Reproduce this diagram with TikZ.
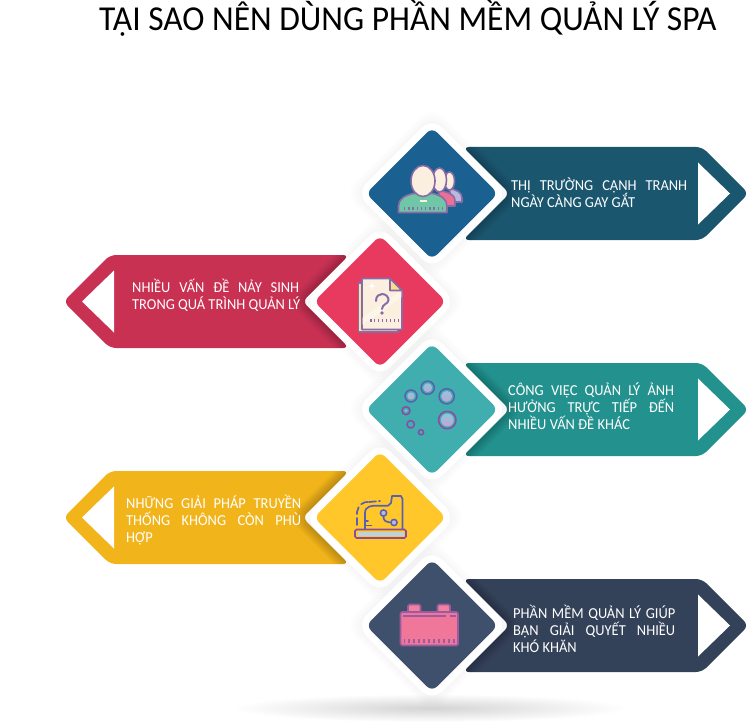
\documentclass[tikz,border=0pt]{standalone}
\usepackage{fontspec}
\setmainfont{Carlito}[FakeStretch=0.95]
\newfontfamily\titlefont{Carlito}[FakeStretch=0.957]
\definecolor{aA}{HTML}{1B566F}\definecolor{dA}{HTML}{1A6090}
\definecolor{aB}{HTML}{C93153}\definecolor{dB}{HTML}{E73A5E}
\definecolor{aC}{HTML}{23928E}\definecolor{dC}{HTML}{40AEAE}
\definecolor{aD}{HTML}{F2B41B}\definecolor{dD}{HTML}{FFC729}
\definecolor{aE}{HTML}{344259}\definecolor{dE}{HTML}{3F506C}
\definecolor{ipurple}{HTML}{8B6BA6}\definecolor{icream}{HTML}{FBF0E0}
\definecolor{igreen}{HTML}{6FC7A8}\definecolor{ipink}{HTML}{EE6F95}
\definecolor{ilav}{HTML}{B7B9DD}\definecolor{iyel}{HTML}{F9DE8E}
\definecolor{iblue}{HTML}{5A5FB0}\definecolor{imag}{HTML}{8A4AA5}
\definecolor{bubtop}{HTML}{8FC5DC}\definecolor{bubbot}{HTML}{C6A4D4}
\definecolor{batt}{HTML}{F0769A}\definecolor{battl}{HTML}{F2819E}\definecolor{battd}{HTML}{9A5C9E}
\newcommand{\slab}[4]{%
 \begin{scope}[shift={(406,#1)},xscale=#2]
  \fill[#3,rounded corners=6] (57,-46.5) -- (296,-46.5) -- (342.5,0) -- (296,46.5) -- (57,46.5) -- (103.5,0) -- cycle;
  \fill[white] (292,-31) -- (324,0) -- (292,31) -- cycle;
  \begin{scope}
   \clip[rounded corners=6] (57,-46.5) -- (296,-46.5) -- (342.5,0) -- (296,46.5) -- (57,46.5) -- (103.5,0) -- cycle;
   \foreach \r in {92,89,86,83,80}{\fill[black,opacity=.035,rounded corners=15] (26-\r,0) -- (26,-\r) -- (26+\r,0) -- (26,\r) -- cycle;}
  \end{scope}
  \foreach \r in {88,85,82,79}{\fill[black,opacity=.006,rounded corners=15] (26-\r,0) -- (26,-\r) -- (26+\r,0) -- (26,\r) -- cycle;}
  \fill[white,rounded corners=15] (-50,0) -- (26,-76) -- (102,0) -- (26,76) -- cycle;
  \fill[#4,rounded corners=7] (-40,0) -- (26,-66) -- (92,0) -- (26,66) -- cycle;
 \end{scope}}
\newcommand{\jline}[2]{\makebox[#1][s]{#2}\\}
\tikzset{
 lbl/.style={anchor=base west,inner sep=0pt,text=white,font=\fontsize{15.2}{17}\selectfont},
 ink/.style={draw=ipurple,line width=1.6pt,line join=round},
 bubble/.style={line width=1.5pt},
 cashline/.style={draw=iblue,line width=1.7pt,line cap=round,line join=round},
}
\begin{document}
\begin{tikzpicture}[x=1pt,y=-1pt]
\useasboundingbox (0,0) rectangle (746,722);
\shade[inner color=black!17,outer color=white] (430,708) ellipse [x radius=197,y radius=14];
\node[anchor=base west,inner sep=0pt,font=\titlefont\fontsize{35}{40}\selectfont,text=black] (title) at (99,31) {TẠI SAO NÊN DÙNG PHẦN MỀM QUẢN LÝ SPA};
\slab{193.5}{1}{aA}{dA}
\slab{301.5}{-1}{aB}{dB}
\slab{409.5}{1}{aC}{dC}
\slab{517.5}{-1}{aD}{dD}
\slab{625.5}{1}{aE}{dE}
% texts
\node[lbl] (t1) at (511,190) {\parbox[t]{176pt}{\baselineskip=17pt\jline{176pt}{THỊ TRƯỜNG CẠNH TRANH}\mbox{NGÀY CÀNG GAY GẮT}}};
\node[lbl] (t2) at (132,292) {\parbox[t]{167pt}{\baselineskip=17pt\jline{167pt}{NHIỀU VẤN ĐỀ NẢY SINH}\mbox{TRONG QUÁ TRÌNH QUẢN LÝ}}};
\node[lbl] (t3) at (508,395) {\parbox[t]{166pt}{\baselineskip=17pt\jline{166pt}{CÔNG VIỆC QUẢN LÝ ẢNH}\jline{166pt}{HƯỞNG TRỰC TIẾP ĐẾN}\mbox{NHIỀU VẤN ĐỀ KHÁC}}};
\node[lbl] (t4) at (126,508) {\parbox[t]{175pt}{\baselineskip=17pt\jline{175pt}{NHỮNG GIẢI PHÁP TRUYỀN}\jline{175pt}{THỐNG KHÔNG CÒN PHÙ}\mbox{HỢP}}};
\node[lbl] (t5) at (513,618) {\parbox[t]{162pt}{\baselineskip=17pt\jline{162pt}{PHẦN MỀM QUẢN LÝ GIÚP}\jline{162pt}{BẠN GIẢI QUYẾT NHIỀU}\mbox{KHÓ KHĂN}}};
% icon 1: people
\path[ink,fill=ilav] (449,188) .. controls (456,190) and (462,192) .. (462,198) -- (462,202) -- (452,202) -- cycle;
\path[ink,fill=icream] (449.5,181) ellipse [x radius=5,y radius=9];
\path[ink,fill=ipink] (438,190) .. controls (447,192) and (455,194) .. (455,201) -- (455,206) -- (442,206) -- cycle;
\path[ink,fill=icream] (439.5,180) ellipse [x radius=7,y radius=12];
\path[ink,fill=igreen] (398.5,212.5) -- (398.5,206) .. controls (398.5,199) and (405,195.5) .. (413,193.5) -- (433,193.5) .. controls (441,195.5) and (447,199) .. (447,206) -- (447,212.5) -- cycle;
\path[ink,fill=icream] (423,181) ellipse [x radius=12,y radius=15.5];
\fill[icream] (419.5,199.5) rectangle (426.5,201.5);
\foreach \x in {0,...,9}{\fill[ipurple] (404+\x*4.2,206.5) rectangle +(1.3,3);}
% icon 2: pages
\path[ink,fill=iyel!70!icream] (358.5,283) -- (358.5,332) -- (398,332) -- (398,326) -- (365,326) -- (365,283) -- cycle;
\path[ink,fill=icream] (362,278.5) -- (390,278.5) -- (402,290.5) -- (402,329.5) -- (362,329.5) -- cycle;
\fill[white,opacity=.35] (362,318) -- (402,290) -- (402,297) -- (362,325) -- cycle;
\path[ink,fill=iyel] (390,278.5) -- (390,290.5) -- (402,290.5) -- cycle;
\draw[draw=ipurple,line width=2pt,line cap=round] (376,301) .. controls (376,296) and (379,294) .. (382,294) .. controls (386,294) and (388.5,297) .. (388.5,300) .. controls (388.5,304) and (382,304) .. (382,309);
\fill[ipurple] (382,313) circle [radius=1.8];
\foreach \x in {0,...,7}{\fill[ipurple] (370+\x*3.95,318.5) rectangle +(1.5,3.2);}
\fill[white] (372,282) -- (372.8,285.2) -- (376,286) -- (372.8,286.8) -- (372,290) -- (371.2,286.8) -- (368,286) -- (371.2,285.2) -- cycle;
% icon 3: bubbles
\foreach \x/\y/\r/\c in {427.7/387.7/6.6/iblue,446.7/396.3/7.6/iblue,411/396/6/iblue,406/410.7/4/imag,447.3/420/8.7/imag,410.7/424.3/3.7/imag,421/432.3/2.6/imag}{
  \draw[\c,bubble] (\x,\y) circle [radius=\r];}
\foreach \x/\y/\r in {427.7/387.7/4.4,446.7/396.3/5.4,411/396/3.7,406/410.7/1.5,447.3/420/6.4}{
  \shade[top color=bubtop,bottom color=bubbot] (\x,\y) circle [radius=\r];}
% icon 4: cash register
\draw[imag,line width=1.7pt,rounded corners=1.5,fill=dD] (355,529.5) rectangle (406,538);
\fill[ilav!30!cyan!30!gray!45!white] (357.5,532) rectangle (403.5,535.6);
\draw[cashline] (365,529) -- (365,513) .. controls (365,506) and (372,505.7) .. (376,505.7) -- (388,505.7) -- (391,503) -- (392,496) -- (401,496) -- (402.5,499) -- (402.5,529);
\draw[cashline,dash pattern=on 7pt off 4pt] (357,525) -- (357,512) .. controls (358,505) and (364,501) .. (369,502);
\draw[cashline,dash pattern=on 7pt off 3pt on 2pt off 3pt] (369,502) -- (380,501);
\draw[cashline] (365,521) -- (368,521) (365,525.5) -- (371.5,525.5);
\draw[cashline] (383.5,513) -- (383.5,517) .. controls (383.5,521) and (387,522.5) .. (390,522.5);
\draw[iblue,line width=1.5pt,fill=ilav] (383.5,513) circle [radius=3.1];
\draw[iblue,line width=1.5pt,fill=ilav] (394,522.5) circle [radius=3.1];
% icon 5: battery
\draw[battd,line width=1.6pt,fill=battl,rounded corners=1.5] (408,611.5) -- (408,604.5) -- (420.5,604.5) -- (420.5,611.5);
\draw[battd,line width=1.6pt,fill=battl,rounded corners=1.5] (437.5,611.5) -- (437.5,604.5) -- (450,604.5) -- (450,611.5);
\draw[battd,line width=1.6pt,fill=batt,rounded corners=1.5] (400.5,612) rectangle (458,645.5);
\draw[battd,line width=1.6pt] (403,615.7) -- (446,615.7) (449.5,615.7) -- (455.5,615.7);
\foreach \x in {0,...,10}{\fill[battd] (403.5+\x*4.98,639) rectangle +(1.5,4);}
\end{tikzpicture}
\end{document}
